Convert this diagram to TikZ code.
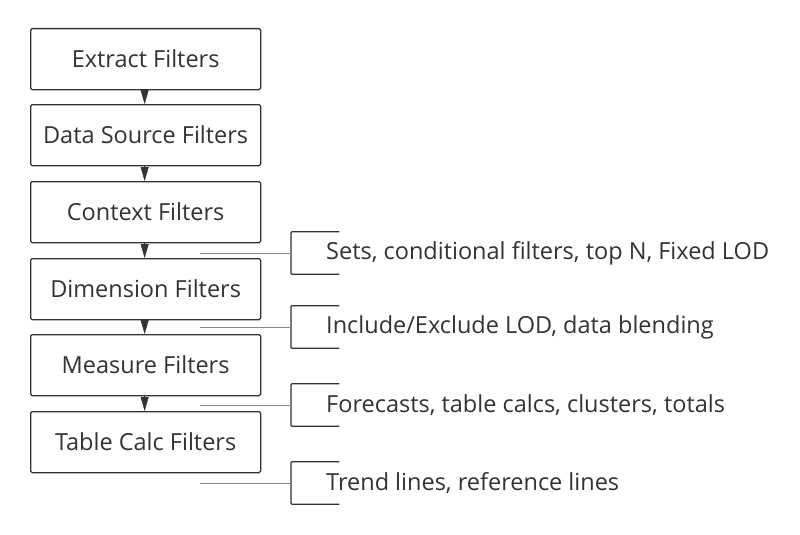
\documentclass[tikz,border=0pt]{standalone}
\usepackage{fontspec}
\setmainfont{Open Sans}
\usetikzlibrary{arrows.meta}
\definecolor{ink}{HTML}{333333}
\definecolor{conn}{HTML}{8A8A8A}
\begin{document}
\begin{tikzpicture}[x=1pt,y=-1pt,
  stagebox/.style={draw=ink,line width=1.3pt,rounded corners=1.5pt,minimum width=230pt,minimum height=61pt,inner sep=0pt,text=ink,font=\fontsize{23.5}{28}\selectfont,anchor=north west},
  flowarrow/.style={draw=ink,line width=0.4pt,-{Triangle[width=8pt,length=14pt]},ink},
  brk/.style={minimum width=48pt,minimum height=42pt,inner sep=0pt,anchor=west},
  brkline/.style={draw=ink,line width=1.3pt,rounded corners=1pt},
  note/.style={anchor=west,text=ink,inner sep=0pt,font=\fontsize{23.5}{28}\selectfont},
  feed/.style={draw=conn,line width=1pt}]
\useasboundingbox (0,0) rectangle (800,535);
\fill[white] (0,0) rectangle (800,535);
\node[stagebox] (b1) at (30,28) {Extract Filters};
\node[stagebox] (b2) at (30,104) {Data Source Filters};
\node[stagebox] (b3) at (30,181) {Context Filters};
\node[stagebox] (b4) at (30,258) {Dimension Filters};
\node[stagebox] (b5) at (30,334) {Measure Filters};
\node[stagebox] (b6) at (30,411) {Table Calc Filters};
\foreach \a/\b in {b1/b2,b2/b3,b3/b4,b4/b5,b5/b6}
  \draw[flowarrow] ([xshift=-1pt]\a.south) -- ([xshift=-1pt]\b.north);
\foreach \i/\y/\t in {1/253/{Sets, conditional filters, top N, Fixed LOD},
                       2/327/{Include/Exclude LOD, data blending},
                       3/405/{Forecasts, table calcs, clusters, totals},
                       4/483/{Trend lines, reference lines}}{
  \node[brk] (k\i) at (291,\y) {};
  \draw[brkline] (k\i.north east) -- (k\i.north west) -- (k\i.south west) -- (k\i.south east);
  \node[note] (n\i) at (326,\y) {\t};
  \coordinate (g\i) at (200,\y);
  \draw[feed] (g\i) -- (k\i.west);
}
\end{tikzpicture}
\end{document}
